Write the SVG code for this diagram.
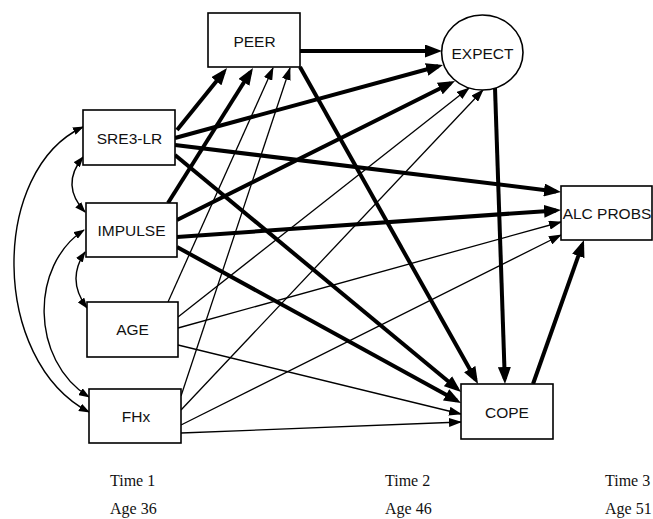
<svg xmlns="http://www.w3.org/2000/svg" width="653" height="519" viewBox="0 0 653 519">
<style>
.node{fill:#fff;stroke:#000;stroke-width:1.6}
.lbl{font-family:"Liberation Sans",Arial,sans-serif;font-size:15.5px;fill:#111;text-anchor:middle}
.time{font-family:"Liberation Serif","Times New Roman",serif;font-size:16px;fill:#111}
.thick{stroke:#000;stroke-width:4;fill:none;marker-end:url(#ah)}
.thin{stroke:#000;stroke-width:1.3;fill:none;marker-end:url(#at)}
.cov{stroke:#000;stroke-width:1.4;fill:none;marker-start:url(#ac);marker-end:url(#ac)}
</style>
<defs>
<marker id="ah" markerUnits="userSpaceOnUse" markerWidth="17" markerHeight="13" refX="12" refY="6.5" orient="auto"><path d="M0,0 L17,6.5 L0,13 z" fill="#000"/></marker>
<marker id="at" markerUnits="userSpaceOnUse" markerWidth="13" markerHeight="9" refX="12" refY="4.5" orient="auto"><path d="M0,0 L13,4.5 L0,9 z" fill="#000"/></marker>
<marker id="ac" markerUnits="userSpaceOnUse" markerWidth="11" markerHeight="8" refX="10" refY="4" orient="auto-start-reverse"><path d="M0,0 L11,4 L0,8 z" fill="#000"/></marker>
</defs>
<rect width="653" height="519" fill="#fff"/>
<g id="connectors">
<line class="thick" x1="177" y1="130" x2="223.9" y2="71.9"/>
<line class="thick" x1="175" y1="138" x2="438.2" y2="66.3"/>
<line class="thick" x1="175" y1="145" x2="556" y2="191.4"/>
<line class="thick" x1="175" y1="155" x2="457.2" y2="388.8"/>
<line class="thick" x1="168" y1="203" x2="250.3" y2="72.2"/>
<line class="thick" x1="177" y1="220" x2="450.5" y2="83.2"/>
<line class="thick" x1="177" y1="237" x2="556" y2="210.4"/>
<line class="thick" x1="177" y1="247" x2="456.6" y2="400.6"/>
<line class="thick" x1="300" y1="51" x2="437" y2="51"/>
<line class="thick" x1="300" y1="67" x2="475.6" y2="379.6"/>
<line class="thick" x1="495" y1="88" x2="504.8" y2="379"/>
<line class="thick" x1="533" y1="384" x2="582.3" y2="244.7"/>
<line class="thin" x1="168" y1="302" x2="273" y2="68"/>
<line class="thin" x1="181" y1="396" x2="290" y2="68"/>
<line class="thin" x1="178" y1="317" x2="469" y2="88"/>
<line class="thin" x1="181" y1="410" x2="483" y2="90"/>
<line class="thin" x1="178" y1="328" x2="561" y2="222"/>
<line class="thin" x1="181" y1="425" x2="561" y2="235"/>
<line class="thin" x1="178" y1="345" x2="461" y2="414"/>
<line class="thin" x1="181" y1="433" x2="461" y2="422"/>
<path class="cov" d="M83,157 Q60,185 85,212"/>
<path class="cov" d="M85,252 Q66,280 87,308"/>
<path class="cov" d="M84,230 C30,265 30,360 89,397"/>
<path class="cov" d="M83,127 C-10,170 -10,360 89,412"/>
</g>
<g id="peer"><rect class="node" x="208" y="13" width="92" height="54"/><text class="lbl" x="254.5" y="47">PEER</text></g>
<g id="sre3lr"><rect class="node" x="83" y="110" width="92" height="55"/><text class="lbl" x="129.5" y="144">SRE3-LR</text></g>
<g id="impulse"><rect class="node" x="86" y="203" width="91" height="54"/><text class="lbl" x="131.5" y="236">IMPULSE</text></g>
<g id="age"><rect class="node" x="87" y="302" width="91" height="55"/><text class="lbl" x="132.5" y="335">AGE</text></g>
<g id="fhx"><rect class="node" x="89" y="389" width="92" height="54"/><text class="lbl" x="136" y="422">FHx</text></g>
<g id="expect"><ellipse class="node" cx="482.3" cy="52.5" rx="40.7" ry="37.5"/><text class="lbl" x="482.5" y="59">EXPECT</text></g>
<g id="alcprobs"><rect class="node" x="561" y="186" width="91" height="54"/><text class="lbl" x="607" y="219">ALC PROBS</text></g>
<g id="cope"><rect class="node" x="461" y="384" width="92" height="55"/><text class="lbl" x="507" y="418">COPE</text></g>
<g id="time-labels">
<text class="time" x="110" y="486">Time 1</text>
<text class="time" x="110" y="514">Age 36</text>
<text class="time" x="385" y="486">Time 2</text>
<text class="time" x="385" y="514">Age 46</text>
<text class="time" x="605" y="486">Time 3</text>
<text class="time" x="605" y="514">Age 51</text>
</g>
</svg>
